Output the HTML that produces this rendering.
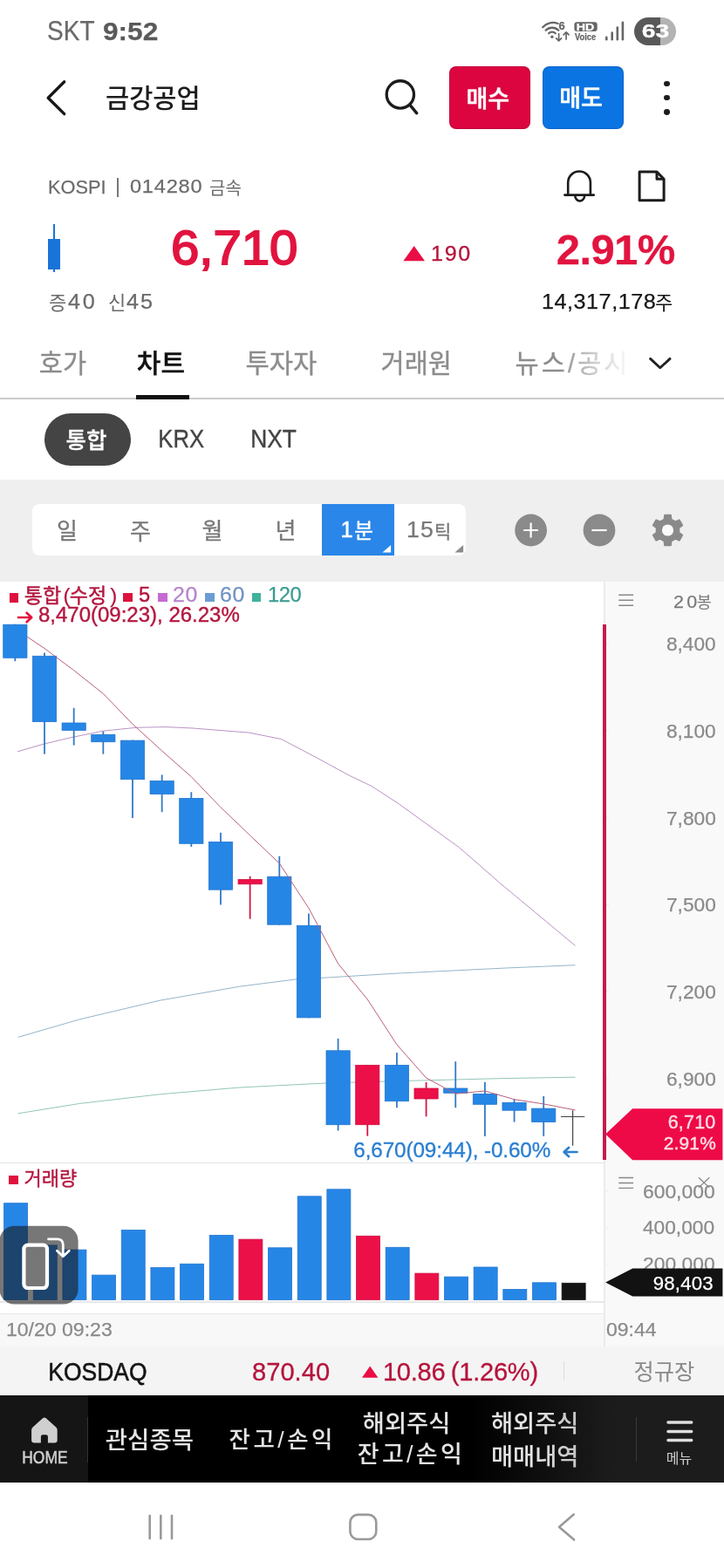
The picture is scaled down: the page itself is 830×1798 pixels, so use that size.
<!DOCTYPE html>
<html lang="ko"><head><meta charset="utf-8"><title>금강공업 차트</title>
<meta name="viewport" content="width=830">
<style>
html,body{margin:0;padding:0;background:#fff}
body{width:830px;height:1798px;position:relative;overflow:hidden;font-family:"Liberation Sans",sans-serif}
#app{position:absolute;left:0;top:0;width:830px;height:1798px;overflow:hidden;background:#fff;will-change:transform}
.t{position:absolute;white-space:pre;line-height:1;display:block;-webkit-text-stroke:.25px}
.k,.r{position:absolute;display:block}
.k{overflow:visible}
.k text{font-family:"Liberation Sans","Noto Sans CJK KR",sans-serif}
</style></head><body><div id="app">
<header id="status-bar">
<span class="t" style="left:54.31px;top:20.03px;font-size:30.67px;color:#6a6a6a;transform:scaleX(0.9140);transform-origin:1.39px 0;">SKT</span>
<span class="t" style="left:117.96px;top:20.53px;font-size:30.08px;color:#5a5a5a;font-weight:700;transform:scaleX(1.0523);transform-origin:1.04px 0;">9:52</span>
<svg class="k" style="left:612px;top:14px" width="110" height="44" viewBox="612 14 110 44" role="img" aria-label="status icons">
<g fill="none" stroke="#666" stroke-width="2.3" stroke-linecap="round">
<path d="M622.2 31.2 A15.2 15.2 0 0 1 639.5 27.0"/>
<path d="M625.6 34.8 A10.4 10.4 0 0 1 640.3 34.8"/>
<path d="M629.1 38.3 A5.4 5.4 0 0 1 636.8 38.3"/>
</g>
<circle cx="632.9" cy="42.2" r="1.7" fill="#666"/>
<g fill="none" stroke="#666" stroke-width="1.7" stroke-linecap="round" stroke-linejoin="round">
<path d="M640.6 38.6V46.6M637.6 43.8l3 3 3-3"/>
<path d="M649.1 45V37M646.1 39.8l3-3 3 3"/>
</g>
<rect x="658.4" y="25.2" width="26.3" height="10.8" rx="3" fill="#666"/>
<g fill="#666">
<rect x="694" y="41.6" width="2.6" height="5" rx="1.3"/>
<rect x="700.4" y="36.2" width="2.6" height="10.4" rx="1.3"/>
<rect x="706.5" y="30.2" width="2.6" height="16.4" rx="1.3"/>
<rect x="712.6" y="24.4" width="2.6" height="22.2" rx="1.3"/>
</g>
</svg>
<span class="t" style="left:640.52px;top:23.1px;font-size:12.99px;color:#666;font-weight:700;">6</span>
<span class="t" style="left:661.21px;top:24.73px;font-size:11.77px;color:#fff;font-weight:700;transform:scaleX(1.2085);transform-origin:0.79px 0;">HD</span>
<span class="t" style="left:659.33px;top:37.64px;font-size:10.47px;color:#666;font-weight:700;transform:scaleX(0.8876);transform-origin:0.07px 0;">Voice</span>
<div class="r" style="left:727.2px;top:20.2px;width:48.2px;height:32px;border-radius:16px;background:linear-gradient(90deg,#595959 0,#595959 29.9px,#b3b3b3 29.9px)"></div>
<span class="t" style="left:736.08px;top:25.2px;font-size:22.32px;color:#fff;font-weight:700;transform:scaleX(1.2673);transform-origin:0.82px 0;">63</span>
</header>
<header id="title-bar">
<svg class="k" style="left:44px;top:84px" width="40" height="56" viewBox="44 84 40 56" role="img" aria-label="back"><path d="M73.7 93.8 L55.2 112.2 L73.7 130.6" fill="none" stroke="#181818" stroke-width="3.4" stroke-linecap="round" stroke-linejoin="round"/></svg>
<svg class="k" style="left:120px;top:96px;" width="118" height="31" viewBox="0 0 118 31" role="img" aria-label="금강공업"><text x="1" y="26.5" font-size="29.5" font-weight="500" fill="#1c1c1c">금강공업</text></svg>
<svg class="k" style="left:436px;top:86px" width="50" height="50" viewBox="436 86 50 50" role="img" aria-label="search"><circle cx="458.85" cy="108.4" r="15.65" fill="none" stroke="#1c1c1c" stroke-width="3.3"/><path d="M470.0 120.4 L477.8 129.8" stroke="#1c1c1c" stroke-width="3.4" stroke-linecap="round"/></svg>
<div class="r" style="left:515.3px;top:75.6px;width:92.6px;height:72.9px;background:#dc0540;border-radius:8px;box-shadow:inset 0 0 0 1px rgba(90,0,40,.22);"></div>
<svg class="k" style="left:534px;top:96px;" width="55" height="31" viewBox="0 0 55 31" role="img" aria-label="매수"><text x="0.5" y="26.8" font-size="27" font-weight="500" fill="#fff" stroke="#fff" stroke-width="0.5" stroke-linejoin="round">매수</text></svg>
<div class="r" style="left:621.9px;top:75.6px;width:92.9px;height:72.9px;background:#0b74e3;border-radius:8px;box-shadow:inset 0 0 0 1px rgba(0,40,110,.22);"></div>
<svg class="k" style="left:640px;top:96px;" width="56" height="30" viewBox="0 0 56 30" role="img" aria-label="매도"><text x="1.2" y="26.3" font-size="27" font-weight="500" fill="#fff" stroke="#fff" stroke-width="0.5" stroke-linejoin="round">매도</text></svg>
<div class="r" style="left:761px;top:92.5px;width:6.8px;height:6.8px;background:#1c1c1c;border-radius:50%;"></div>
<div class="r" style="left:761px;top:108.7px;width:6.8px;height:6.8px;background:#1c1c1c;border-radius:50%;"></div>
<div class="r" style="left:761px;top:124.9px;width:6.8px;height:6.8px;background:#1c1c1c;border-radius:50%;"></div>
</header>
<section id="quote">
<span class="t" style="left:55.34px;top:203px;font-size:22.67px;color:#6b6b6b;transform:scaleX(0.9594);transform-origin:1.86px 0;">KOSPI</span>
<div class="r" style="left:134.3px;top:204px;width:1.4px;height:21.6px;background:#777;"></div>
<span class="t" style="left:149.42px;top:203.29px;font-size:22.46px;color:#6b6b6b;letter-spacing:0.75px;transform:scaleX(1.0500);transform-origin:0.88px 0;">014280</span>
<svg class="k" style="left:239px;top:204px;" width="42" height="22" viewBox="0 0 42 22" role="img" aria-label="금속"><text x="1" y="18.5" font-size="20" fill="#6b6b6b">금속</text></svg>
<svg class="k" style="left:640px;top:188px" width="135" height="52" viewBox="640 188 135 52" role="img" aria-label="alarm and memo">
<g fill="none" stroke="#1c1c1c" stroke-width="2.6" stroke-linecap="round" stroke-linejoin="round">
<path d="M651.2 223.6 V209.3 A12.85 12.85 0 0 1 676.9 209.3 V223.6"/>
<path d="M647.4 223.6 H680.8"/>
<path d="M659.3 224.5 A5.4 6 0 0 0 670.1 224.5"/>
</g>
<g fill="none" stroke="#1c1c1c" stroke-width="3" stroke-linejoin="round">
<path d="M733.1 197.1 H753 L761.1 205.2 V229.8 H733.1 Z"/>
<path d="M753 197.1 V205.2 H761.1"/>
</g></svg>
<div class="r" style="left:61.4px;top:257.3px;width:2px;height:55.2px;background:#1a73d9;"></div>
<div class="r" style="left:55.4px;top:273.9px;width:13.5px;height:34.7px;background:#1a73d9;"></div>
<span class="t" style="left:195.95px;top:256.1px;font-size:56.21px;color:#e1143f;transform:scaleX(1.0345);transform-origin:2.85px 0;-webkit-text-stroke:1.9px #e1143f;">6,710</span>
<svg class="k" style="left:460px;top:279px" width="30" height="23" viewBox="460 279 30 23" role="img" aria-label="up"><path d="M474.7 281.9 L487 299.3 H462.4 Z" fill="#ea0d45"/></svg>
<span class="t" style="left:493.68px;top:278.89px;font-size:23.87px;color:#b5143d;letter-spacing:1.7px;transform:scaleX(1.0500);transform-origin:1.82px 0;-webkit-text-stroke:.3px #b5143d;">190</span>
<span class="t" style="left:637.8px;top:261.7px;font-size:49.01px;color:#e1143f;font-weight:700;letter-spacing:-0.62px;">2.91%</span>
<svg class="k" style="left:55px;top:334px;" width="24" height="24" viewBox="0 0 24 24" role="img" aria-label="증"><text x="1" y="21" font-size="22" fill="#6b6b6b">증</text></svg>
<span class="t" style="left:77.95px;top:334.17px;font-size:24.01px;color:#6b6b6b;letter-spacing:2.69px;transform:scaleX(1.0500);transform-origin:0.55px 0;">40</span>
<svg class="k" style="left:124px;top:334px;" width="21" height="24" viewBox="0 0 21 24" role="img" aria-label="신"><text x="0" y="21" font-size="22" fill="#6b6b6b">신</text></svg>
<span class="t" style="left:144.75px;top:334.17px;font-size:24.01px;color:#6b6b6b;letter-spacing:1.8px;transform:scaleX(1.0500);transform-origin:0.55px 0;">45</span>
<span class="t" style="left:620.77px;top:333.67px;font-size:24.01px;color:#151515;letter-spacing:0.5px;transform:scaleX(1.0500);transform-origin:1.83px 0;">14,317,178</span>
<svg class="k" style="left:750px;top:334px;" width="24" height="24" viewBox="0 0 24 24" role="img" aria-label="주"><text x="1" y="20.7" font-size="22" fill="#151515">주</text></svg>
</section>
<nav id="main-tabs">
<svg class="k" style="left:44px;top:399px;" width="60" height="32" viewBox="0 0 60 32" role="img" aria-label="호가"><text x="0.8" y="27.5" font-size="29.5" fill="#8c8c8c" stroke="#8c8c8c" stroke-width="0.35" stroke-linejoin="round">호가</text></svg>
<svg class="k" style="left:156px;top:398px;" width="61" height="33" viewBox="0 0 61 33" role="img" aria-label="차트"><text x="0.8" y="28.5" font-size="30" font-weight="500" fill="#111" stroke="#111" stroke-width="0.35" stroke-linejoin="round">차트</text></svg>
<svg class="k" style="left:281px;top:399px;" width="90" height="32" viewBox="0 0 90 32" role="img" aria-label="투자자"><text x="0.5" y="27.7" font-size="29.7" fill="#8c8c8c" stroke="#8c8c8c" stroke-width="0.35" stroke-linejoin="round">투자자</text></svg>
<svg class="k" style="left:436px;top:399px;" width="89" height="32" viewBox="0 0 89 32" role="img" aria-label="거래원"><text x="0.5" y="27.7" font-size="29.5" fill="#8c8c8c" stroke="#8c8c8c" stroke-width="0.35" stroke-linejoin="round">거래원</text></svg>
<svg class="k" style="left:590px;top:399px;" width="130" height="35" viewBox="0 0 130 35" role="img" aria-label="뉴스/공시"><text x="0.5" y="27.5" font-size="29.5" textLength="129" lengthAdjust="spacing" fill="#8c8c8c" stroke="#8c8c8c" stroke-width="0.35" stroke-linejoin="round">뉴스/공시</text></svg>
<div class="r" style="left:640px;top:390px;width:90px;height:55px;background:linear-gradient(90deg,rgba(255,255,255,0) 0,rgba(255,255,255,.55) 45%,#fff 95%)"></div>
<svg class="k" style="left:738px;top:402px" width="38" height="30" viewBox="738 402 38 30" role="img" aria-label="more"><path d="M745.6 411.4 L756.8 421.8 L768 411.4" fill="none" stroke="#222" stroke-width="2.9" stroke-linecap="round" stroke-linejoin="round"/></svg>
<div class="r" style="left:0px;top:456px;width:830px;height:2px;background:#cbcbcb;"></div>
<div class="r" style="left:156px;top:452.8px;width:61px;height:5.2px;background:#111;"></div>
</nav>
<nav id="market-tabs">
<div class="r" style="left:50.5px;top:473.5px;width:99.5px;height:60.2px;background:#444;border-radius:30.1px;"></div>
<svg class="k" style="left:75px;top:488px;" width="52" height="30" viewBox="0 0 52 30" role="img" aria-label="통합"><text x="0.5" y="25.5" font-size="25.5" font-weight="500" fill="#fff" stroke="#fff" stroke-width="0.3" stroke-linejoin="round">통합</text></svg>
<span class="t" style="left:180.52px;top:488.59px;font-size:29.07px;color:#444;transform:scaleX(0.8824);transform-origin:2.38px 0;-webkit-text-stroke:.4px #444;">KRX</span>
<span class="t" style="left:286.52px;top:488.59px;font-size:29.07px;color:#444;transform:scaleX(0.9058);transform-origin:2.38px 0;-webkit-text-stroke:.4px #444;">NXT</span>
</nav>
<section id="chart-toolbar">
<div class="r" style="left:0px;top:549.6px;width:830px;height:117.4px;background:#efefef;"></div>
<div class="r" style="left:36.5px;top:578.2px;width:497.5px;height:58.8px;background:#fff;border-radius:8px;"></div>
<div class="r" style="left:369.2px;top:578.2px;width:82.4px;height:58.8px;background:#2a86e8;"></div>
<svg class="k" style="left:65px;top:592px;" width="26" height="30" viewBox="0 0 26 30" role="img" aria-label="일"><text x="0" y="26.3" font-size="26" fill="#787878" stroke="#787878" stroke-width="0.3" stroke-linejoin="round">일</text></svg>
<svg class="k" style="left:148px;top:593px;" width="28" height="29" viewBox="0 0 28 29" role="img" aria-label="주"><text x="1" y="25.5" font-size="26" fill="#787878" stroke="#787878" stroke-width="0.3" stroke-linejoin="round">주</text></svg>
<svg class="k" style="left:231px;top:592px;" width="27" height="30" viewBox="0 0 27 30" role="img" aria-label="월"><text x="0.5" y="26.3" font-size="26" fill="#787878" stroke="#787878" stroke-width="0.3" stroke-linejoin="round">월</text></svg>
<svg class="k" style="left:316px;top:592px;" width="24" height="30" viewBox="0 0 24 30" role="img" aria-label="년"><text x="-0.5" y="26.3" font-size="26" fill="#787878" stroke="#787878" stroke-width="0.3" stroke-linejoin="round">년</text></svg>
<span class="t" style="left:390.56px;top:594.67px;font-size:25.42px;color:#fff;-webkit-text-stroke:.5px #fff;">1</span>
<svg class="k" style="left:406px;top:594px;" width="24" height="26" viewBox="0 0 24 26" role="img" aria-label="분"><text x="0.3" y="22.5" font-size="23.5" fill="#fff" stroke="#fff" stroke-width="0.5" stroke-linejoin="round">분</text></svg>
<span class="t" style="left:465.76px;top:594.67px;font-size:25.42px;color:#787878;letter-spacing:1.11px;transform:scaleX(1.0500);transform-origin:1.94px 0;">15</span>
<svg class="k" style="left:498px;top:594px;" width="20" height="26" viewBox="0 0 20 26" role="img" aria-label="틱"><text x="0" y="22.5" font-size="21" fill="#787878" stroke="#787878" stroke-width="0.3" stroke-linejoin="round">틱</text></svg>
<svg class="k" style="left:430px;top:620px" width="110" height="18" viewBox="430 620 110 18" role="img" aria-label="dropdown marks"><path d="M438.4 633.6 H448.1 V625.1 Z" fill="#fff"/><path d="M521.4 633.6 H531.1 V625.1 Z" fill="#8a8a8a"/></svg>
<svg class="k" style="left:585px;top:585px" width="205" height="46" viewBox="585 585 205 46" role="img" aria-label="zoom in, zoom out, settings">
<circle cx="608.6" cy="608" r="18.4" fill="#8a8a8a"/><path d="M600.2 608 H617 M608.6 599.6 V616.4" stroke="#fff" stroke-width="2.2"/>
<circle cx="687" cy="608" r="18.4" fill="#8a8a8a"/><path d="M678.4 608 H695.6" stroke="#fff" stroke-width="2.2"/>
<path d="M769.3 595.6 L768.8 590.8 L762.2 590.8 L761.7 595.6 L756.7 598.5 L752.3 596.5 L749.0 602.3 L752.8 605.1 L752.8 610.9 L749.0 613.7 L752.3 619.5 L756.7 617.5 L761.7 620.4 L762.2 625.2 L768.8 625.2 L769.3 620.4 L774.3 617.5 L778.7 619.5 L782.0 613.7 L778.2 610.9 L778.2 605.1 L782.0 602.3 L778.7 596.5 L774.3 598.5Z" fill="#8a8a8a" stroke="#8a8a8a" stroke-width="2.2" stroke-linejoin="round"/><circle cx="765.5" cy="608" r="13.2" fill="#8a8a8a"/><circle cx="765.5" cy="608" r="6.6" fill="#fafafa"/>
</svg>
</section>
<section id="price-chart">
<div class="r" style="left:0px;top:667px;width:693px;height:666px;background:#fff;"></div>
<div class="r" style="left:693px;top:667px;width:137px;height:877px;background:#f9f9f9;"></div>
<div class="r" style="left:692.4px;top:667px;width:1.2px;height:877px;background:#ebebeb;"></div>
<div class="r" style="left:10.5px;top:680.3px;width:10.6px;height:10.4px;background:#dc113f;"></div>
<svg class="k" style="left:27px;top:672px;" width="47" height="22" viewBox="0 0 47 22" role="img" aria-label="통합"><text x="0.8" y="19" font-size="23" fill="#b4173f" stroke="#b4173f" stroke-width="0.45" stroke-linejoin="round">통합</text></svg>
<span class="t" style="left:72.41px;top:670.88px;font-size:24px;color:#b4173f;">(</span>
<svg class="k" style="left:79px;top:672px;" width="47" height="22" viewBox="0 0 47 22" role="img" aria-label="수정"><text x="0.8" y="19" font-size="23" fill="#b4173f" stroke="#b4173f" stroke-width="0.45" stroke-linejoin="round">수정</text></svg>
<span class="t" style="left:126.26px;top:670.88px;font-size:24px;color:#b4173f;">)</span>
<div class="r" style="left:141.1px;top:679.8px;width:10.6px;height:10.4px;background:#dc113f;"></div>
<span class="t" style="left:158.95px;top:670.91px;font-size:23.73px;color:#b4173f;-webkit-text-stroke:.4px #b4173f;">5</span>
<div class="r" style="left:181.3px;top:679.8px;width:10.7px;height:10.4px;background:#c46ad2;"></div>
<span class="t" style="left:198.11px;top:670.91px;font-size:23.73px;color:#b584cc;letter-spacing:0.77px;transform:scaleX(1.0500);transform-origin:1.19px 0;">20</span>
<div class="r" style="left:235.3px;top:679.8px;width:10.6px;height:10.4px;background:#6c9cd4;"></div>
<span class="t" style="left:252.1px;top:670.91px;font-size:23.73px;color:#7093c4;letter-spacing:0.79px;transform:scaleX(1.0500);transform-origin:1.2px 0;">60</span>
<div class="r" style="left:288.6px;top:679.8px;width:10.9px;height:10.4px;background:#3fb39b;"></div>
<span class="t" style="left:306.89px;top:670.91px;font-size:23.73px;color:#3b9c92;letter-spacing:-0.43px;">120</span>
<svg class="k" style="left:18px;top:700px" width="22" height="16" viewBox="18 700 22 16" role="img" aria-label="arrow"><path d="M21 708 H36 M30.6 702.8 L36.2 708 L30.6 713.2" fill="none" stroke="#e1143f" stroke-width="2.7" stroke-linecap="round" stroke-linejoin="round"/></svg>
<span class="t" style="left:44.09px;top:694.09px;font-size:23.16px;color:#b4173f;transform:scaleX(1.0364);transform-origin:1.01px 0;-webkit-text-stroke:.4px #b4173f;">8,470(09:23), 26.23%</span>
<svg class="k" style="left:0;top:667px" width="693" height="830" viewBox="0 667 693 830" role="img" aria-label="candlestick chart"><polyline fill="none" stroke="#92c6ba" stroke-width="1.0" stroke-linejoin="round" points="20.6,1276.8 91.6,1265.4 183.2,1254.8 274.7,1247 373.2,1242 450,1239.8 580,1236.5 659.5,1235.2"/><polyline fill="none" stroke="#94b5ca" stroke-width="1.0" stroke-linejoin="round" points="20.6,1189.4 91.6,1168.8 183.2,1147.2 274.7,1131.2 338.8,1123 380,1120.7 450,1116.4 580,1110 659.5,1106.7"/><polyline fill="none" stroke="#ba92c4" stroke-width="1.0" stroke-linejoin="round" points="20.2,861.8 50,853.2 80,846 118,838.2 156,834.3 190,833.6 221,835 285.3,840.1 322.4,847.5 363,868.8 400,889 426.3,901.6 457.1,921.7 526.5,971.8 572.8,1012.3 659.5,1084.4"/><rect x="16.45" y="715.8" width="1.8" height="42.4" fill="#3379c6"/><rect x="3.75" y="716.2" width="27.2" height="38.1" fill="#2686e6" stroke="#2275cf" stroke-width=".8"/><rect x="50.11" y="748.5" width="1.8" height="116.2" fill="#3379c6"/><rect x="37.41" y="752.3" width="27.2" height="75.3" fill="#2686e6" stroke="#2275cf" stroke-width=".8"/><rect x="83.77" y="811.8" width="1.8" height="42.8" fill="#3379c6"/><rect x="71.07" y="829.0" width="27.2" height="8.4" fill="#2686e6" stroke="#2275cf" stroke-width=".8"/><rect x="117.43" y="838.7" width="1.8" height="26.0" fill="#3379c6"/><rect x="104.73" y="842.3" width="27.2" height="8.4" fill="#2686e6" stroke="#2275cf" stroke-width=".8"/><rect x="151.09" y="848.7" width="1.8" height="89.3" fill="#3379c6"/><rect x="138.39" y="849.1" width="27.2" height="44.6" fill="#2686e6" stroke="#2275cf" stroke-width=".8"/><rect x="184.75" y="888.4" width="1.8" height="42.8" fill="#3379c6"/><rect x="172.05" y="895.5" width="27.2" height="15.1" fill="#2686e6" stroke="#2275cf" stroke-width=".8"/><rect x="218.41" y="908.3" width="1.8" height="62.7" fill="#3379c6"/><rect x="205.71" y="915.4" width="27.2" height="51.9" fill="#2686e6" stroke="#2275cf" stroke-width=".8"/><rect x="252.07" y="954.8" width="1.8" height="82.7" fill="#3379c6"/><rect x="239.37" y="965.4" width="27.2" height="54.8" fill="#2686e6" stroke="#2275cf" stroke-width=".8"/><rect x="285.73" y="1004.8" width="1.8" height="48.9" fill="#d81445"/><rect x="273.03" y="1008.5" width="27.2" height="5.3" fill="#ec1048" stroke="#cf0f41" stroke-width=".8"/><rect x="319.39" y="981.8" width="1.8" height="78.8" fill="#3379c6"/><rect x="306.69" y="1005.2" width="27.2" height="55.0" fill="#2686e6" stroke="#2275cf" stroke-width=".8"/><rect x="353.05" y="1047.5" width="1.8" height="119.8" fill="#3379c6"/><rect x="340.35" y="1061.4" width="27.2" height="105.5" fill="#2686e6" stroke="#2275cf" stroke-width=".8"/><rect x="386.71" y="1190.9" width="1.8" height="105.6" fill="#3379c6"/><rect x="374.01" y="1204.8" width="27.2" height="84.9" fill="#2686e6" stroke="#2275cf" stroke-width=".8"/><rect x="420.37" y="1221" width="1.8" height="81.6" fill="#d81445"/><rect x="407.67" y="1221.4" width="27.2" height="68.3" fill="#ec1048" stroke="#cf0f41" stroke-width=".8"/><rect x="454.03" y="1207.1" width="1.8" height="63.1" fill="#3379c6"/><rect x="441.33" y="1221.4" width="27.2" height="41.3" fill="#2686e6" stroke="#2275cf" stroke-width=".8"/><rect x="487.69" y="1240.9" width="1.8" height="39.4" fill="#d81445"/><rect x="474.99" y="1248.0" width="27.2" height="12.0" fill="#ec1048" stroke="#cf0f41" stroke-width=".8"/><rect x="521.35" y="1217.2" width="1.8" height="53.0" fill="#3379c6"/><rect x="508.65" y="1248.0" width="27.2" height="5.3" fill="#2686e6" stroke="#2275cf" stroke-width=".8"/><rect x="555.01" y="1240.8" width="1.8" height="62.2" fill="#3379c6"/><rect x="542.31" y="1254.4" width="27.2" height="11.9" fill="#2686e6" stroke="#2275cf" stroke-width=".8"/><rect x="588.67" y="1260.2" width="1.8" height="26.4" fill="#3379c6"/><rect x="575.97" y="1264.3" width="27.2" height="8.9" fill="#2686e6" stroke="#2275cf" stroke-width=".8"/><rect x="622.33" y="1257" width="1.8" height="45.9" fill="#3379c6"/><rect x="609.63" y="1271.1" width="27.2" height="15.5" fill="#2686e6" stroke="#2275cf" stroke-width=".8"/><path d="M642.9 1280.5 H670.3 M656.6 1273.2 V1313.7" stroke="#444" stroke-width="1.2" fill="none"/><polyline fill="none" stroke="#b8607a" stroke-width="1.0" stroke-linejoin="round" points="31.2,730.2 51,743.5 84.7,768.7 118.3,795.4 152,830.3 185.7,861 219.3,890.7 253,925.7 286.6,957.9 320.3,990 354,1041.5 387.6,1105 421.3,1146 454.9,1197.8 488.6,1236 522.3,1254.2 555.9,1251 589.6,1260.7 623.2,1265.9 659.5,1272.9"/><rect x="4.60" y="1379.7" width="27" height="110.7" fill="#2686e6" stroke="#2275cf" stroke-width=".8"/><rect x="38.26" y="1427.9" width="27" height="62.5" fill="#2686e6" stroke="#2275cf" stroke-width=".8"/><rect x="71.92" y="1433.1" width="27" height="57.3" fill="#2686e6" stroke="#2275cf" stroke-width=".8"/><rect x="105.58" y="1462.1" width="27" height="28.3" fill="#2686e6" stroke="#2275cf" stroke-width=".8"/><rect x="139.24" y="1410.5" width="27" height="79.9" fill="#2686e6" stroke="#2275cf" stroke-width=".8"/><rect x="172.90" y="1453.6" width="27" height="36.8" fill="#2686e6" stroke="#2275cf" stroke-width=".8"/><rect x="206.56" y="1449.3" width="27" height="41.1" fill="#2686e6" stroke="#2275cf" stroke-width=".8"/><rect x="240.22" y="1416.4" width="27" height="74.0" fill="#2686e6" stroke="#2275cf" stroke-width=".8"/><rect x="273.88" y="1421.1" width="27" height="69.3" fill="#ec1048" stroke="#cf0f41" stroke-width=".8"/><rect x="307.54" y="1430.8" width="27" height="59.6" fill="#2686e6" stroke="#2275cf" stroke-width=".8"/><rect x="341.20" y="1371.8" width="27" height="118.6" fill="#2686e6" stroke="#2275cf" stroke-width=".8"/><rect x="374.86" y="1363.8" width="27" height="126.6" fill="#2686e6" stroke="#2275cf" stroke-width=".8"/><rect x="408.52" y="1417.3" width="27" height="73.1" fill="#ec1048" stroke="#cf0f41" stroke-width=".8"/><rect x="442.18" y="1430.3" width="27" height="60.1" fill="#2686e6" stroke="#2275cf" stroke-width=".8"/><rect x="475.84" y="1460.1" width="27" height="30.3" fill="#ec1048" stroke="#cf0f41" stroke-width=".8"/><rect x="509.50" y="1464.1" width="27" height="26.3" fill="#2686e6" stroke="#2275cf" stroke-width=".8"/><rect x="543.16" y="1453.0" width="27" height="37.4" fill="#2686e6" stroke="#2275cf" stroke-width=".8"/><rect x="576.82" y="1478.4" width="27" height="12.0" fill="#2686e6" stroke="#2275cf" stroke-width=".8"/><rect x="610.48" y="1470.8" width="27" height="19.6" fill="#2686e6" stroke="#2275cf" stroke-width=".8"/><rect x="644.14" y="1471.3" width="27" height="19.1" fill="#141414" stroke="#141414" stroke-width=".8"/></svg>
<span class="t" style="left:405.27px;top:1306.83px;font-size:24.29px;color:#2a7fd2;letter-spacing:-0.11px;-webkit-text-stroke:.35px #2a7fd2;">6,670(09:44), -0.60%</span>
<svg class="k" style="left:643px;top:1313px" width="22" height="16" viewBox="643 1313 22 16" role="img" aria-label="arrow"><path d="M661.5 1321 H647 M652.2 1315.8 L646.6 1321 L652.2 1326.2" fill="none" stroke="#2a7fd2" stroke-width="2.6" stroke-linecap="round" stroke-linejoin="round"/></svg>
<svg class="k" style="left:705px;top:678px" width="26" height="20" viewBox="705 678 26 20" role="img" aria-label="menu"><path d="M709.3 682.2 H726.1 M709.3 688.2 H726.1 M709.3 694.2 H726.1" stroke="#888" stroke-width="1.4"/></svg>
<span class="t" style="left:772.07px;top:679.66px;font-size:20.48px;color:#7b7b7b;letter-spacing:3.15px;transform:scaleX(1.0500);transform-origin:1.03px 0;">20</span>
<svg class="k" style="left:798px;top:679px;" width="20" height="21" viewBox="0 0 20 21" role="img" aria-label="봉"><text x="0.7" y="17.5" font-size="18.5" fill="#7b7b7b">봉</text></svg>
<div class="r" style="left:691.3px;top:715.5px;width:3.5px;height:614px;background:#c51c4d;"></div>
<span class="t" style="left:764.35px;top:728.48px;font-size:21.75px;color:#8a8a8a;transform:scaleX(1.0411);transform-origin:0.95px 0;">8,400</span>
<div class="r" style="left:694.8px;top:737.7px;width:3px;height:1px;background:#e9e9e9;"></div>
<span class="t" style="left:764.35px;top:828.1px;font-size:21.75px;color:#8a8a8a;transform:scaleX(1.0411);transform-origin:0.95px 0;">8,100</span>
<div class="r" style="left:694.8px;top:837.32px;width:3px;height:1px;background:#e9e9e9;"></div>
<span class="t" style="left:764.18px;top:927.72px;font-size:21.75px;color:#8a8a8a;transform:scaleX(1.0445);transform-origin:1.12px 0;">7,800</span>
<div class="r" style="left:694.8px;top:936.94px;width:3px;height:1px;background:#e9e9e9;"></div>
<span class="t" style="left:764.18px;top:1027.34px;font-size:21.75px;color:#8a8a8a;transform:scaleX(1.0445);transform-origin:1.12px 0;">7,500</span>
<div class="r" style="left:694.8px;top:1036.56px;width:3px;height:1px;background:#e9e9e9;"></div>
<span class="t" style="left:764.18px;top:1126.96px;font-size:21.75px;color:#8a8a8a;transform:scaleX(1.0445);transform-origin:1.12px 0;">7,200</span>
<div class="r" style="left:694.8px;top:1136.18px;width:3px;height:1px;background:#e9e9e9;"></div>
<span class="t" style="left:764.2px;top:1226.58px;font-size:21.75px;color:#8a8a8a;transform:scaleX(1.0443);transform-origin:1.1px 0;">6,900</span>
<div class="r" style="left:694.8px;top:1235.8px;width:3px;height:1px;background:#e9e9e9;"></div>
<svg class="k" style="left:690px;top:1268px" width="140" height="66" viewBox="690 1268 140 66" role="img" aria-label="price tag"><path d="M694.1 1300.6 L725.2 1271.2 H828.4 V1330.2 H725.2 Z" fill="#ee0a46"/></svg>
<span class="t" style="left:765.71px;top:1276.82px;font-size:21.47px;color:#ffdde7;letter-spacing:0.2px;-webkit-text-stroke:.4px #ffdde7;">6,710</span>
<span class="t" style="left:760.65px;top:1301px;font-size:20.9px;color:#ffdde7;letter-spacing:0.21px;-webkit-text-stroke:.4px #ffdde7;">2.91%</span>
<div class="r" style="left:0px;top:1333px;width:693px;height:1.3px;background:#e4e4e4;"></div>
</section>
<section id="volume-chart">
<div class="r" style="left:10.3px;top:1347.7px;width:10.8px;height:10.7px;background:#e0123f;"></div>
<svg class="k" style="left:27px;top:1340px;" width="67" height="22" viewBox="0 0 67 22" role="img" aria-label="거래량"><text x="0.5" y="19.2" font-size="22" fill="#b4173f" stroke="#b4173f" stroke-width="0.4" stroke-linejoin="round">거래량</text></svg>
<svg class="k" style="left:705px;top:1346px" width="112" height="22" viewBox="705 1346 112 22" role="img" aria-label="menu close"><path d="M709.3 1350.5 H726.1 M709.3 1356.5 H726.1 M709.3 1362.4 H726.1" stroke="#888" stroke-width="1.4"/><path d="M801 1350.3 L813.2 1361.9 M813.2 1350.3 L801 1361.9" stroke="#888" stroke-width="1.3"/></svg>
<span class="t" style="left:736.69px;top:1355.56px;font-size:21.89px;color:#8a8a8a;transform:scaleX(1.0458);transform-origin:1.11px 0;">600,000</span>
<div class="r" style="left:694.8px;top:1364.8px;width:3px;height:1px;background:#e9e9e9;"></div>
<span class="t" style="left:737.3px;top:1397.46px;font-size:21.89px;color:#8a8a8a;transform:scaleX(1.0376);transform-origin:0.5px 0;">400,000</span>
<div class="r" style="left:694.8px;top:1406.7px;width:3px;height:1px;background:#e9e9e9;"></div>
<span class="t" style="left:736.7px;top:1439.36px;font-size:21.89px;color:#8a8a8a;transform:scaleX(1.0456);transform-origin:1.1px 0;">200,000</span>
<div class="r" style="left:694.8px;top:1448.6px;width:3px;height:1px;background:#e9e9e9;"></div>
<svg class="k" style="left:690px;top:1452px" width="140" height="38" viewBox="690 1452 140 38" role="img" aria-label="volume tag"><path d="M694.1 1470.5 L725.2 1454.5 H828.4 V1486.6 H725.2 Z" fill="#121212"/></svg>
<span class="t" style="left:748.76px;top:1460.72px;font-size:22.18px;color:#fff;letter-spacing:0.2px;">98,403</span>
<div class="r" style="left:0px;top:1492.4px;width:693px;height:1.3px;background:#e8e8e8;"></div>
<div class="r" style="left:0px;top:1505.7px;width:693px;height:1.3px;background:#e8e8e8;"></div>
<div class="r" style="left:0px;top:1507.3px;width:692.4px;height:36.7px;background:#f8f8f8;"></div>
<span class="t" style="left:6.69px;top:1514.09px;font-size:22.46px;color:#8a8a8a;transform:scaleX(1.0264);transform-origin:1.71px 0;">10/20 09:23</span>
<span class="t" style="left:694.53px;top:1514.1px;font-size:22.32px;color:#8a8a8a;transform:scaleX(1.0309);transform-origin:0.87px 0;">09:44</span>
<svg class="k" style="left:0;top:1404px" width="92" height="94" viewBox="0 1404 92 94" role="img" aria-label="rotate">
<rect x="-0.5" y="1405.8" width="90.1" height="89.7" rx="17" fill="rgba(20,20,20,.58)"/>
<rect x="27.4" y="1427.7" width="26.6" height="49.3" rx="4.5" fill="#777" stroke="#fff" stroke-width="4.2"/>
<path d="M55.5 1420.8 H65.5 Q72.3 1420.8 72.3 1427.6 V1440.2 M65.4 1434.2 L72.3 1440.8 L79.2 1434.2" fill="none" stroke="#fff" stroke-width="2.8" stroke-linecap="round" stroke-linejoin="round"/>
</svg>
</section>
<section id="index-bar">
<div class="r" style="left:0px;top:1544px;width:830px;height:56px;background:#f4f4f4;"></div>
<span class="t" style="left:55.27px;top:1557.89px;font-size:29.65px;color:#141414;transform:scaleX(0.8925);transform-origin:2.43px 0;-webkit-text-stroke:.6px #141414;">KOSDAQ</span>
<span class="t" style="left:288.94px;top:1558.56px;font-size:29.1px;color:#b5143d;letter-spacing:0.04px;-webkit-text-stroke:.3px #b5143d;">870.40</span>
<svg class="k" style="left:412px;top:1564px" width="24" height="18" viewBox="412 1564 24 18" role="img" aria-label="up"><path d="M424.2 1566.6 L433.4 1579.8 H415 Z" fill="#ea0d45"/></svg>
<span class="t" style="left:438.88px;top:1558.56px;font-size:29.1px;color:#b5143d;letter-spacing:-0.28px;-webkit-text-stroke:.3px #b5143d;">10.86</span>
<span class="t" style="left:516.8px;top:1558.56px;font-size:29.1px;color:#b5143d;letter-spacing:-0.25px;-webkit-text-stroke:.3px #b5143d;">(1.26%)</span>
<div class="r" style="left:645.7px;top:1560.7px;width:1.5px;height:22.3px;background:#dcdcdc;"></div>
<svg class="k" style="left:726px;top:1558px;" width="77" height="28" viewBox="0 0 77 28" role="img" aria-label="정규장"><text x="0.5" y="23.8" font-size="25.3" fill="#8a8a8a">정규장</text></svg>
</section>
<nav id="bottom-nav">
<div class="r" style="left:0px;top:1600px;width:830px;height:100px;background:#000;"></div>
<div class="r" style="left:0px;top:1600px;width:100.6px;height:100px;background:#151515;"></div>
<div class="r" style="left:540px;top:1600px;width:290px;height:100px;background:linear-gradient(90deg,rgba(28,28,28,0) 0,rgba(28,28,28,.5) 28%,#1c1c1c 56%)"></div>
<div class="r" style="left:100px;top:1624.8px;width:1.2px;height:51.8px;background:#333;"></div>
<div class="r" style="left:728.8px;top:1624.7px;width:1.2px;height:51.4px;background:#3a3a3a;"></div>
<svg class="k" style="left:30px;top:1620px" width="42" height="40" viewBox="30 1620 42 40" role="img" aria-label="home"><path d="M50.9 1625.4 Q49.9 1625.4 49 1626.2 L37.6 1636.4 Q36.1 1637.8 36.1 1639.8 V1651.3 Q36.1 1654.6 39.4 1654.6 H46.9 V1647.2 Q46.9 1645.2 48.9 1645.2 H52.9 Q54.9 1645.2 54.9 1647.2 V1654.6 H62.4 Q65.7 1654.6 65.7 1651.3 V1639.8 Q65.7 1637.8 64.2 1636.4 L52.8 1626.2 Q51.9 1625.4 50.9 1625.4 Z" fill="#cfcfcf"/></svg>
<span class="t" style="left:24.98px;top:1661.76px;font-size:19.77px;color:#cfcfcf;transform:scaleX(0.8833);transform-origin:1.62px 0;-webkit-text-stroke:.5px #cfcfcf;">HOME</span>
<svg class="k" style="left:120px;top:1634px;" width="111" height="31" viewBox="0 0 111 31" role="img" aria-label="관심종목"><text x="0.8" y="26.8" font-size="27.5" font-weight="500" fill="#e4e4e4">관심종목</text></svg>
<svg class="k" style="left:262px;top:1634px;" width="120" height="32" viewBox="0 0 120 32" role="img" aria-label="잔고/손익"><text x="0.5" y="25.5" font-size="26.5" font-weight="500" textLength="119" lengthAdjust="spacing" fill="#e4e4e4">잔고/손익</text></svg>
<svg class="k" style="left:415px;top:1616px;" width="110" height="30" viewBox="0 0 110 30" role="img" aria-label="해외주식"><text x="0.8" y="26" font-size="27.3" font-weight="500" fill="#e4e4e4">해외주식</text></svg>
<svg class="k" style="left:409px;top:1651px;" width="122" height="33" viewBox="0 0 122 33" role="img" aria-label="잔고/손익"><text x="0.8" y="26.2" font-size="27" font-weight="500" textLength="120" lengthAdjust="spacing" fill="#e4e4e4">잔고/손익</text></svg>
<svg class="k" style="left:562px;top:1616px;" width="111" height="29" viewBox="0 0 111 29" role="img" aria-label="해외주식"><text x="1" y="25.6" font-size="27.3" font-weight="500" fill="#e4e4e4">해외주식</text></svg>
<svg class="k" style="left:562px;top:1655px;" width="111" height="29" viewBox="0 0 111 29" role="img" aria-label="매매내역"><text x="1" y="25.2" font-size="27.3" font-weight="500" fill="#e4e4e4">매매내역</text></svg>
<div class="r" style="left:610px;top:1610px;width:70px;height:80px;background:linear-gradient(90deg,rgba(20,20,20,0) 0,rgba(20,20,20,.2) 100%)"></div>
<svg class="k" style="left:760px;top:1626px" width="40" height="30" viewBox="760 1626 40 30" role="img" aria-label="menu"><path d="M766 1631 H792.7 M766 1641.4 H792.7 M766 1651.6 H792.7" stroke="#dedede" stroke-width="3.5" stroke-linecap="round"/></svg>
<svg class="k" style="left:763px;top:1663px;" width="33" height="18" viewBox="0 0 33 18" role="img" aria-label="메뉴"><text x="0.8" y="15.2" font-size="16" fill="#cfcfcf">메뉴</text></svg>
</nav>
<footer id="system-nav">
<div class="r" style="left:0px;top:1700px;width:830px;height:98px;background:#fff;"></div>
<svg class="k" style="left:160px;top:1728px" width="510" height="46" viewBox="160 1728 510 46" role="img" aria-label="system navigation">
<g fill="none" stroke="#999" stroke-width="2.6" stroke-linecap="round" stroke-linejoin="round">
<path d="M171.7 1738 V1764.3 M184.3 1738 V1764.3 M197 1738 V1764.3"/>
<rect x="401.4" y="1736.9" width="29.9" height="28.1" rx="9"/>
<path d="M657.8 1736.6 L641 1750.9 L658 1765.6"/>
</g></svg>
</footer>
</div></body></html>
